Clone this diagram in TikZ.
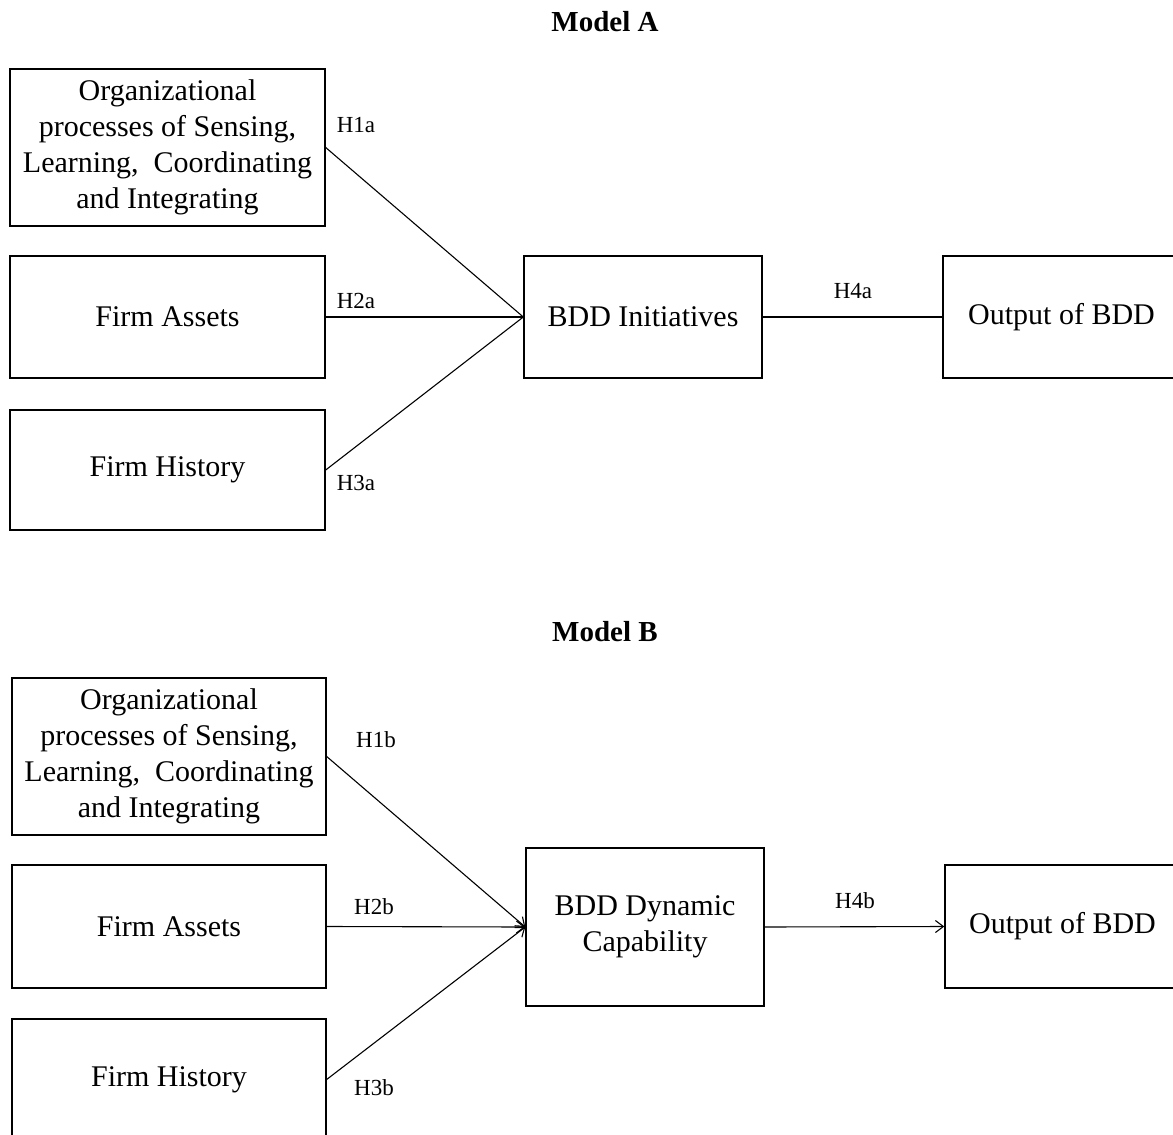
\documentclass[tikz,border=0pt]{standalone}
\usepackage{fontspec}
\setmainfont{Liberation Serif}
\usetikzlibrary{arrows.meta}

\tikzset{
    box/.style={draw, line width=0.7pt, inner sep=0pt, align=center,
        font=\fontsize{15}{18}\selectfont},
    hyp/.style={font=\fontsize{11.5}{13}\selectfont},
    title/.style={font=\fontsize{14.5}{17}\selectfont\bfseries},
    link/.style={line width=0.55pt},
    arrowlink/.style={line width=0.55pt, -{Straight Barb[length=4pt,width=6pt]}}
}

\begin{document}
\begin{tikzpicture}[x=0.5pt, y=-0.5pt]

    \useasboundingbox (0, 0) rectangle (1173, 1135);
    \clip (0, 0) rectangle (1173, 1135);

    %% Model A

    \node[title] (titleA) at (605, 22) {Model A};

    % Antecedents
    \node[box, minimum width=157.5pt, minimum height=78.5pt] (orgA) at (167.5, 147.5)
        {Organizational\\processes of Sensing,\\Learning,\ \ Coordinating\\and Integrating};
    \node[box, minimum width=157.5pt, minimum height=61pt] (assetsA) at (167.5, 317) {Firm Assets};
    \node[box, minimum width=157.5pt, minimum height=60pt] (historyA) at (167.5, 470) {Firm History};

    % Initiatives and output
    \node[box, minimum width=119pt, minimum height=61pt] (bddA) at (643, 317) {BDD Initiatives};
    \node[box, minimum width=118.5pt, minimum height=61pt] (outA) at (1061.5, 317) {Output of BDD};

    % Links
    \draw[link] (orgA.east) -- (bddA.west);
    \draw[link] (assetsA.east) -- (bddA.west);
    \draw[link] (historyA.east) -- (bddA.west);
    \draw[link] (bddA.east) -- (outA.west);

    % Hypotheses
    \node[hyp] (h1a) at (356, 125) {H1a};
    \node[hyp] (h2a) at (356, 301) {H2a};
    \node[hyp] (h3a) at (356, 483) {H3a};
    \node[hyp] (h4a) at (853, 291) {H4a};

    %% Model B

    \node[title] (titleB) at (605, 632) {Model B};

    % Antecedents
    \node[box, minimum width=157pt, minimum height=78.5pt] (orgB) at (169, 756.5)
        {Organizational\\processes of Sensing,\\Learning,\ \ Coordinating\\and Integrating};
    \node[box, minimum width=157pt, minimum height=61.5pt] (assetsB) at (169, 926.5) {Firm Assets};
    \node[box, minimum width=157pt, minimum height=122pt] (historyB) at (169, 1141) {};
    \node (historyBtext) at (169, 1080) {\fontsize{15}{18}\selectfont Firm History};
    \coordinate (historyBlink) at (326, 1080);

    % Dynamic capability and output
    \node[box, minimum width=119pt, minimum height=79pt] (bddB) at (645, 927)
        {BDD Dynamic\\Capability};
    \node[box, minimum width=117.5pt, minimum height=61.5pt] (outB) at (1062.5, 926.5) {Output of BDD};

    % Links
    \draw[arrowlink] (orgB.east) -- (bddB.west);
    \draw[arrowlink] (assetsB.east) -- (bddB.west);
    \draw[arrowlink] (historyBlink) -- (bddB.west);
    \draw[arrowlink] (bddB.east) -- (outB.west);

    % Hypotheses
    \node[hyp] (h1b) at (376, 740) {H1b};
    \node[hyp] (h2b) at (374, 907) {H2b};
    \node[hyp] (h3b) at (374, 1088) {H3b};
    \node[hyp] (h4b) at (855, 901) {H4b};

\end{tikzpicture}
\end{document}
